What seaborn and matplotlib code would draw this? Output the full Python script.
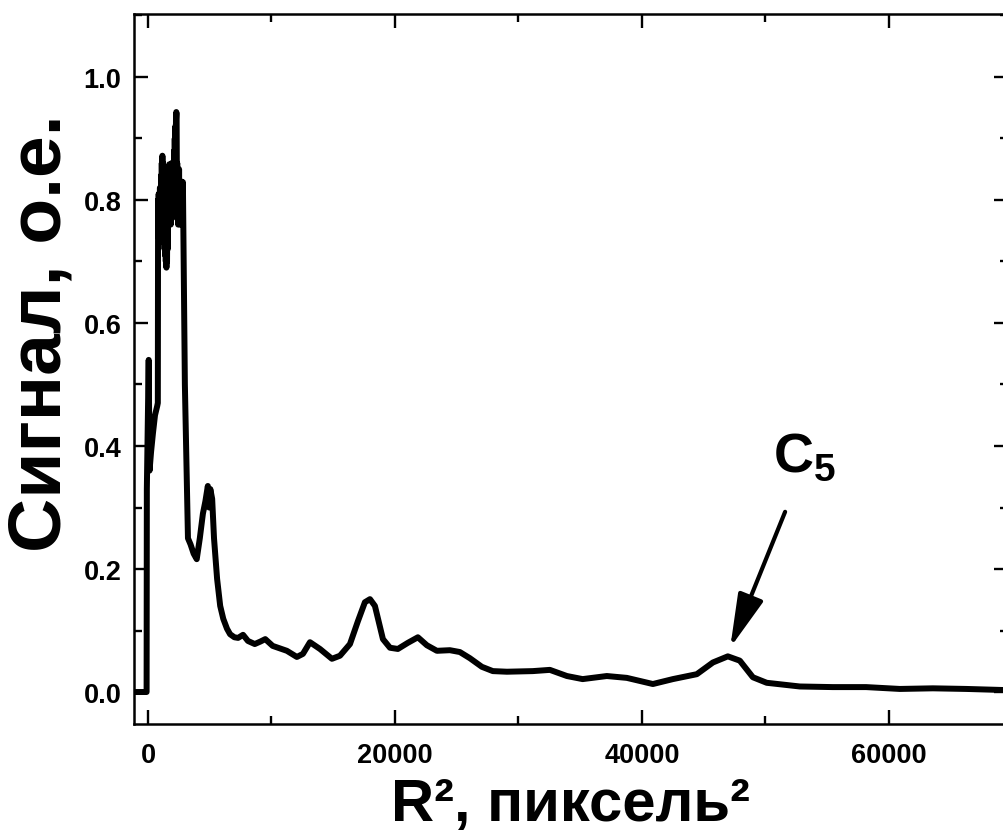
import matplotlib
matplotlib.use("Agg")
import matplotlib.pyplot as plt
import numpy as np
import pandas as pd
import seaborn as sns
from matplotlib.ticker import MultipleLocator, FixedLocator, FormatStrFormatter

# ---- data ----
r2 = [-1100, -110, -90, 60, 130, 250, 400, 570, 750, 800,
      820, 845, 870, 895, 920, 945, 970, 995, 1020, 1045, 1070, 1095, 1120,
      1145, 1170, 1195, 1220, 1245, 1270, 1295, 1320, 1345, 1370, 1395, 1420,
      1445, 1470, 1495, 1520, 1545, 1570, 1595, 1620, 1645, 1670, 1695, 1720,
      1745, 1770, 1795, 1820, 1845, 1870, 1895, 1920, 1945, 1970, 1995, 2020,
      2045, 2070, 2095, 2120, 2145, 2170, 2195, 2220, 2245, 2270, 2295, 2320,
      2345, 2370, 2395, 2420, 2445, 2470, 2495, 2520, 2545, 2570, 2595, 2620,
      2645, 2670, 2695, 2720, 2750, 2830, 2990, 3240, 3450, 3700, 3950, 4200,
      4450, 4650, 4850, 4950, 5050, 5200, 5350, 5600, 5850, 6100, 6400, 6650,
      7000, 7300, 7700, 8100, 8650, 9100, 9500, 10100, 11250, 12060, 12550,
      13120, 13930, 14900, 15550, 16360, 17000, 17570, 17980, 18380, 19030,
      19600, 20240, 21050, 21860, 22590, 23400, 24450, 25260, 26070, 27040,
      27930, 29070, 31170, 32550, 33930, 35200, 37160, 38780, 40890, 42510,
      44450, 45750, 46960, 47930, 48990, 50110, 52790, 55460, 58160, 60890,
      63570, 66280, 69700]
signal = [0.0, 0.0, 0.33, 0.54, 0.36, 0.39, 0.42, 0.45, 0.465, 0.47,
          0.80, 0.74, 0.81, 0.73, 0.80, 0.75, 0.82, 0.74, 0.81, 0.76, 0.84,
          0.77, 0.86, 0.79, 0.872, 0.80, 0.86, 0.76, 0.82, 0.74, 0.80, 0.72,
          0.79, 0.71, 0.78, 0.70, 0.77, 0.69, 0.76, 0.70, 0.78, 0.72, 0.84,
          0.76, 0.85, 0.77, 0.858, 0.78, 0.85, 0.77, 0.84, 0.76, 0.85, 0.78,
          0.86, 0.77, 0.84, 0.78, 0.86, 0.79, 0.85, 0.78, 0.88, 0.80, 0.90,
          0.84, 0.92, 0.86, 0.93, 0.943, 0.94, 0.82, 0.86, 0.77, 0.85, 0.76,
          0.84, 0.77, 0.85, 0.78, 0.83, 0.76, 0.83, 0.77, 0.82, 0.78, 0.83,
          0.80, 0.829, 0.50, 0.25, 0.24, 0.225, 0.216, 0.25, 0.29, 0.31,
          0.335, 0.30, 0.33, 0.314, 0.25, 0.184, 0.14, 0.119, 0.103, 0.094,
          0.089, 0.088, 0.093, 0.083, 0.078, 0.082, 0.086, 0.075, 0.067,
          0.057, 0.062, 0.081, 0.070, 0.054, 0.059, 0.078, 0.115, 0.146,
          0.151, 0.140, 0.086, 0.072, 0.070, 0.080, 0.089, 0.076, 0.067,
          0.068, 0.065, 0.055, 0.041, 0.034, 0.033, 0.034, 0.036, 0.026,
          0.021, 0.026, 0.023, 0.013, 0.021, 0.029, 0.048, 0.058, 0.051,
          0.024, 0.015, 0.009, 0.008, 0.008, 0.005, 0.006, 0.005, 0.003]

x_major_ticks = [0, 20000, 40000, 60000]
y_major_ticks = [0.0, 0.2, 0.4, 0.6, 0.8, 1.0]
x_label = "R², пиксель²"
y_label = "Сигнал, о.е."
peak_label = r"$\mathbf{C}_{\mathbf{5}}$"
peak_point = (47150, 0.072)
arrow_tail = (51600, 0.293)
label_pos = (53200, 0.382)

# ---- style ----
sns.set_style("ticks")
plt.rcParams["font.family"] = ["Liberation Sans", "DejaVu Sans"]
plt.rcParams["font.weight"] = "bold"
plt.rcParams["axes.labelweight"] = "bold"
plt.rcParams["text.color"] = "black"
plt.rcParams["axes.labelcolor"] = "black"
plt.rcParams["xtick.color"] = "black"
plt.rcParams["ytick.color"] = "black"
plt.rcParams["mathtext.fontset"] = "custom"
plt.rcParams["mathtext.bf"] = "Liberation Sans:bold"
plt.rcParams["mathtext.rm"] = "Liberation Sans:bold"

W, H = 1004, 837
fig = plt.figure(figsize=(W / 100, H / 100), dpi=100)
left_px, right_px, top_px, bot_px = 134, 1008, 15, 725
ax = fig.add_axes([left_px / W, (H - bot_px) / H,
                   (right_px - left_px) / W, (bot_px - top_px) / H])

df = pd.DataFrame({"r2": r2, "signal": signal})
sns.lineplot(data=df, x="r2", y="signal", ax=ax, color="black",
             linewidth=4.3, sort=False, estimator=None)
for ln in ax.lines:
    ln.set_solid_joinstyle("round")
    ln.set_solid_capstyle("round")

ax.set_xlim(-1130, 69650)
ax.set_ylim(-0.052, 1.1024)

ax.xaxis.set_major_locator(FixedLocator(x_major_ticks))
ax.xaxis.set_minor_locator(MultipleLocator(10000))
ax.yaxis.set_major_locator(FixedLocator(y_major_ticks))
ax.yaxis.set_minor_locator(MultipleLocator(0.1))
ax.yaxis.set_major_formatter(FormatStrFormatter("%.1f"))
ax.xaxis.set_major_formatter(FormatStrFormatter("%d"))

ax.tick_params(which="both", direction="in", top=True, right=True,
               width=1.7, color="black", labelcolor="black")
ax.tick_params(which="major", length=10, labelsize=19.5)
ax.tick_params(which="minor", length=5.5)
ax.tick_params(axis="x", which="major", pad=13)
ax.tick_params(axis="y", which="major", pad=9)
for lab in ax.get_xticklabels() + ax.get_yticklabels():
    lab.set_fontweight("bold")

for sp in ax.spines.values():
    sp.set_visible(True)
    sp.set_linewidth(1.8)
    sp.set_color("black")

ax.set_xlabel(x_label, fontsize=43, fontweight="bold", color="black")
ax.set_ylabel(y_label, fontsize=54, fontweight="bold", color="black")
ax.xaxis.label.set_va("center")
ax.yaxis.label.set_va("center")
ax.xaxis.set_label_coords((571 - left_px) / (right_px - left_px),
                          (bot_px - 806) / (bot_px - top_px))
ax.yaxis.set_label_coords((41 - left_px) / (right_px - left_px),
                          (bot_px - 333) / (bot_px - top_px))

ax.annotate("", xy=peak_point, xytext=arrow_tail,
            arrowprops=dict(arrowstyle="-|>,head_length=1.1,head_width=0.27",
                            mutation_scale=30, lw=3, color="black",
                            shrinkA=0, shrinkB=0))
ax.text(label_pos[0], label_pos[1], peak_label, fontsize=40,
        ha="center", va="center", color="black")

fig.savefig("out.png", dpi=100)
